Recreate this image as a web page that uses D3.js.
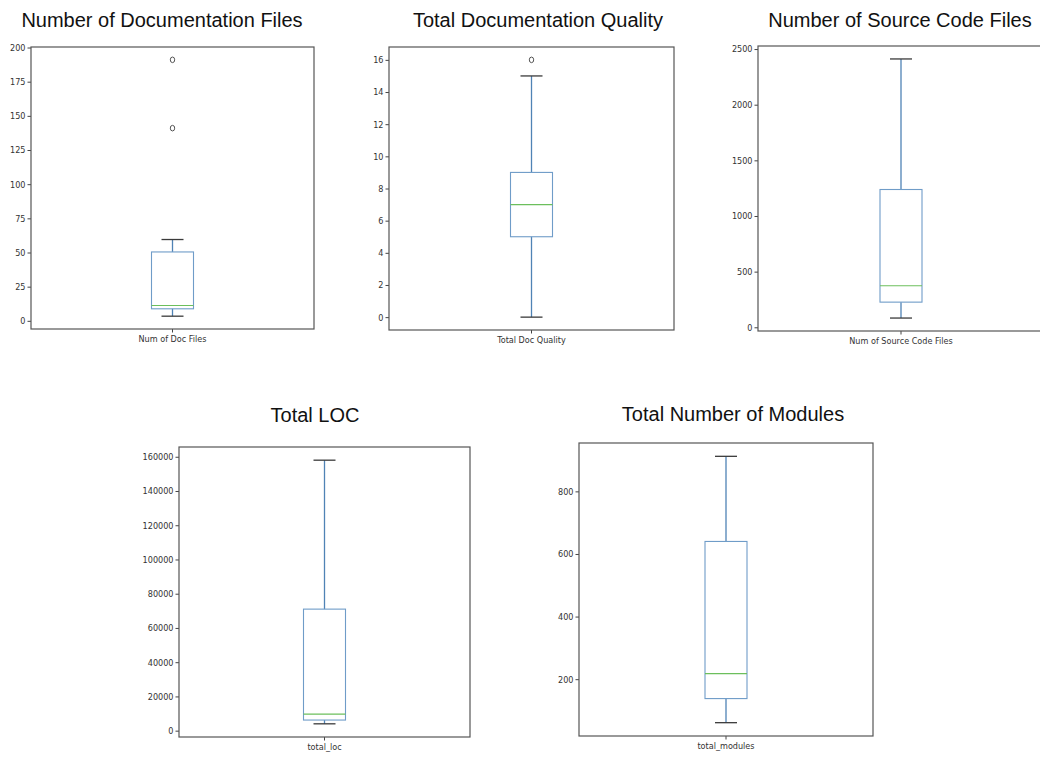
<!DOCTYPE html>
<html>
<head>
<meta charset="utf-8">
<script src="https://cdn.jsdelivr.net/npm/d3@7"></script>
<style>
body { margin: 0; background: #fff; }
svg { display: block; }
.title { font-family: "Liberation Sans", Arial, Helvetica, sans-serif; font-size: 20px; fill: #111; }
.tick text { font-family: "DejaVu Sans Condensed", "Liberation Sans Narrow", "Liberation Sans", Arial, sans-serif; font-size: 9px; fill: #333; }
</style>
</head>
<body>
<script>
// box plot stats
var titles = ["Number of Documentation Files", "Total Documentation Quality", "Number of Source Code Files", "Total LOC", "Total Number of Modules"];
var xLabels = ["Num of Doc Files", "Total Doc Quality", "Num of Source Code Files", "total_loc", "total_modules"];
var lowWhisker = [3.4, 0, 83, 4000, 61];
var q1 = [8.8, 5, 226, 6200, 138];
var median = [11.2, 7, 373, 9700, 218];
var q3 = [50.4, 9, 1238, 71000, 640];
var highWhisker = [59.5, 15, 2411, 158000, 912];
var outliers = [[141, 191], [16], [], [], []];
var yTicks = [
	[0, 25, 50, 75, 100, 125, 150, 175, 200],
	[0, 2, 4, 6, 8, 10, 12, 14, 16],
	[0, 500, 1000, 1500, 2000, 2500],
	[0, 20000, 40000, 60000, 80000, 100000, 120000, 140000, 160000],
	[200, 400, 600, 800]
];

// frame of each panel: left, top, right, bottom
var frames = [
	[31, 47, 314, 329],
	[389, 47, 674, 330],
	[758, 46, 1044, 331],
	[179, 447, 470, 737],
	[579, 443, 873, 736]
];
var titlePos = [[162, 27], [538, 27], [900, 27], [315, 422], [733, 421]];

var width = 1040
var height = 758
var boxHalf = 21
var capHalf = 11

var svg = d3.select("body")
			.append("svg")
			.attr("width", width)
			.attr("height", height);

titles.forEach(function(t, i) {
	var f = frames[i];
	var lo = d3.min([lowWhisker[i]].concat(outliers[i]));
	var hi = d3.max([highWhisker[i]].concat(outliers[i]));
	var pad = (hi - lo) * 0.05;

	var y = d3.scaleLinear()
			.domain([lo - pad, hi + pad])
			.range([f[3], f[1]]);
	var x = d3.scaleBand()
			.domain([xLabels[i]])
			.range([f[0], f[2]]);

	var g = svg.append("g");

	svg.append("text")
		.attr("class", "title")
		.attr("x", titlePos[i][0])
		.attr("y", titlePos[i][1])
		.attr("text-anchor", "middle")
		.text(t);

	var yAxis = g.append("g")
			.attr("transform", "translate(" + f[0] + ",0)")
			.call(d3.axisLeft(y).tickValues(yTicks[i]).tickSize(3.5).tickPadding(2).tickFormat(d3.format("d")));
	yAxis.select(".domain").remove();
	yAxis.selectAll(".tick line").attr("stroke", "#444");

	var xAxis = g.append("g")
			.attr("transform", "translate(0," + f[3] + ")")
			.call(d3.axisBottom(x).tickSize(3.5).tickPadding(3));
	xAxis.select(".domain").remove();
	xAxis.selectAll(".tick line").attr("stroke", "#444");

	g.append("rect")
		.attr("x", f[0])
		.attr("y", f[1])
		.attr("width", f[2] - f[0])
		.attr("height", f[3] - f[1])
		.attr("fill", "none")
		.attr("stroke", "#555")
		.attr("stroke-width", 1.2);

	var cx = x(xLabels[i]) + x.bandwidth() / 2;

	// whiskers
	g.append("line")
		.attr("x1", cx).attr("x2", cx)
		.attr("y1", y(q3[i])).attr("y2", y(highWhisker[i]))
		.attr("stroke", "#4f83b5").attr("stroke-width", 1.3);
	g.append("line")
		.attr("x1", cx).attr("x2", cx)
		.attr("y1", y(q1[i])).attr("y2", y(lowWhisker[i]))
		.attr("stroke", "#4f83b5").attr("stroke-width", 1.3);

	// caps
	[lowWhisker[i], highWhisker[i]].forEach(function(v) {
		g.append("line")
			.attr("x1", cx - capHalf).attr("x2", cx + capHalf)
			.attr("y1", y(v)).attr("y2", y(v))
			.attr("stroke", "#3a3a3a").attr("stroke-width", 1.3);
	});

	// box
	g.append("rect")
		.attr("x", cx - boxHalf)
		.attr("y", y(q3[i]))
		.attr("width", boxHalf * 2)
		.attr("height", y(q1[i]) - y(q3[i]))
		.attr("fill", "none")
		.attr("stroke", "#6f9cc8")
		.attr("stroke-width", 1.1);

	g.append("line")
		.attr("x1", cx - boxHalf).attr("x2", cx + boxHalf)
		.attr("y1", y(median[i])).attr("y2", y(median[i]))
		.attr("stroke", "#6cbf5c").attr("stroke-width", 1.2);

	g.selectAll("ellipse.flier")
		.data(outliers[i])
		.enter()
		.append("ellipse")
		.attr("class", "flier")
		.attr("cx", cx)
		.attr("cy", function(d) { return y(d) })
		.attr("rx", 2.2)
		.attr("ry", 2.8)
		.attr("fill", "none")
		.attr("stroke", "#555")
		.attr("stroke-width", 1);
});
</script>
</body>
</html>
